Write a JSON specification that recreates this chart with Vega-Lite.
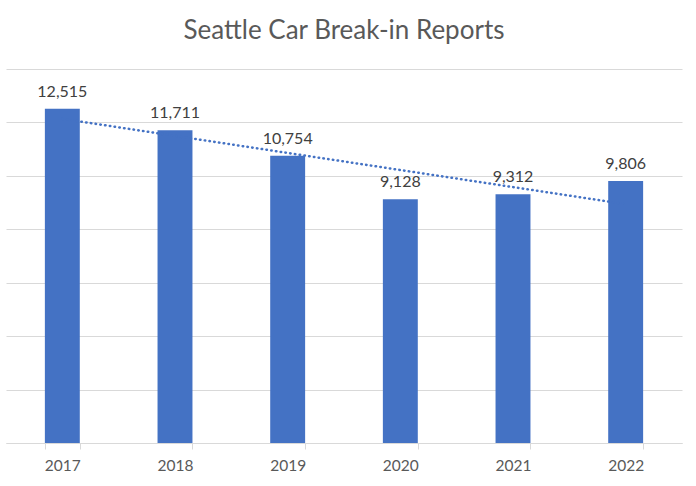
{
  "$schema": "https://vega.github.io/schema/vega-lite/v6.json",
  "width": 676,
  "height": 374,
  "autosize": {"type": "none"},
  "padding": {"left": 6, "top": 69, "right": 14, "bottom": 43},
  "background": "white",
  "title": {
    "text": "Seattle Car Break-in Reports",
    "font": "Lato",
    "fontSize": 26,
    "fontWeight": "normal",
    "color": "#595959",
    "anchor": "middle",
    "offset": 25
  },
  "config": {
    "view": {"stroke": null},
    "font": "Lato"
  },
  "data": {
    "values": [
      {"year": 2017, "reports": 12515},
      {"year": 2018, "reports": 11711},
      {"year": 2019, "reports": 10754},
      {"year": 2020, "reports": 9128},
      {"year": 2021, "reports": 9312},
      {"year": 2022, "reports": 9806}
    ]
  },
  "encoding": {
    "x": {
      "field": "year",
      "type": "ordinal",
      "scale": {"paddingInner": 0.69, "paddingOuter": 0.345},
      "axis": {
        "title": null,
        "labelAngle": 0,
        "labelFont": "Lato",
        "labelFontSize": 15.5,
        "labelColor": "#595959",
        "labelPadding": 9,
        "domainColor": "#d9d9d9",
        "domainWidth": 1,
        "tickColor": "#d9d9d9",
        "tickSize": 6,
        "tickBand": "extent",
        "grid": false
      }
    }
  },
  "layer": [
    {
      "mark": {"type": "bar", "color": "#4472C4"},
      "encoding": {
        "y": {
          "field": "reports",
          "type": "quantitative",
          "scale": {"domain": [0, 14000], "nice": false},
          "axis": {
            "title": null,
            "labels": false,
            "ticks": false,
            "domain": false,
            "values": [0, 2000, 4000, 6000, 8000, 10000, 12000, 14000],
            "gridColor": "#d9d9d9",
            "gridWidth": 1
          }
        }
      }
    },
    {
      "mark": {"type": "text", "baseline": "alphabetic", "dy": -12, "font": "Lato", "fontSize": 16, "color": "#404040"},
      "encoding": {
        "y": {"field": "reports", "type": "quantitative"},
        "text": {"field": "reports", "type": "quantitative", "format": ",d"}
      }
    },
    {
      "transform": [{"regression": "reports", "on": "year"}],
      "mark": {"type": "line", "color": "#4472C4", "strokeWidth": 2.5, "strokeDash": [0.5, 4.3], "strokeCap": "round"},
      "encoding": {
        "y": {"field": "reports", "type": "quantitative"}
      }
    }
  ]
}
